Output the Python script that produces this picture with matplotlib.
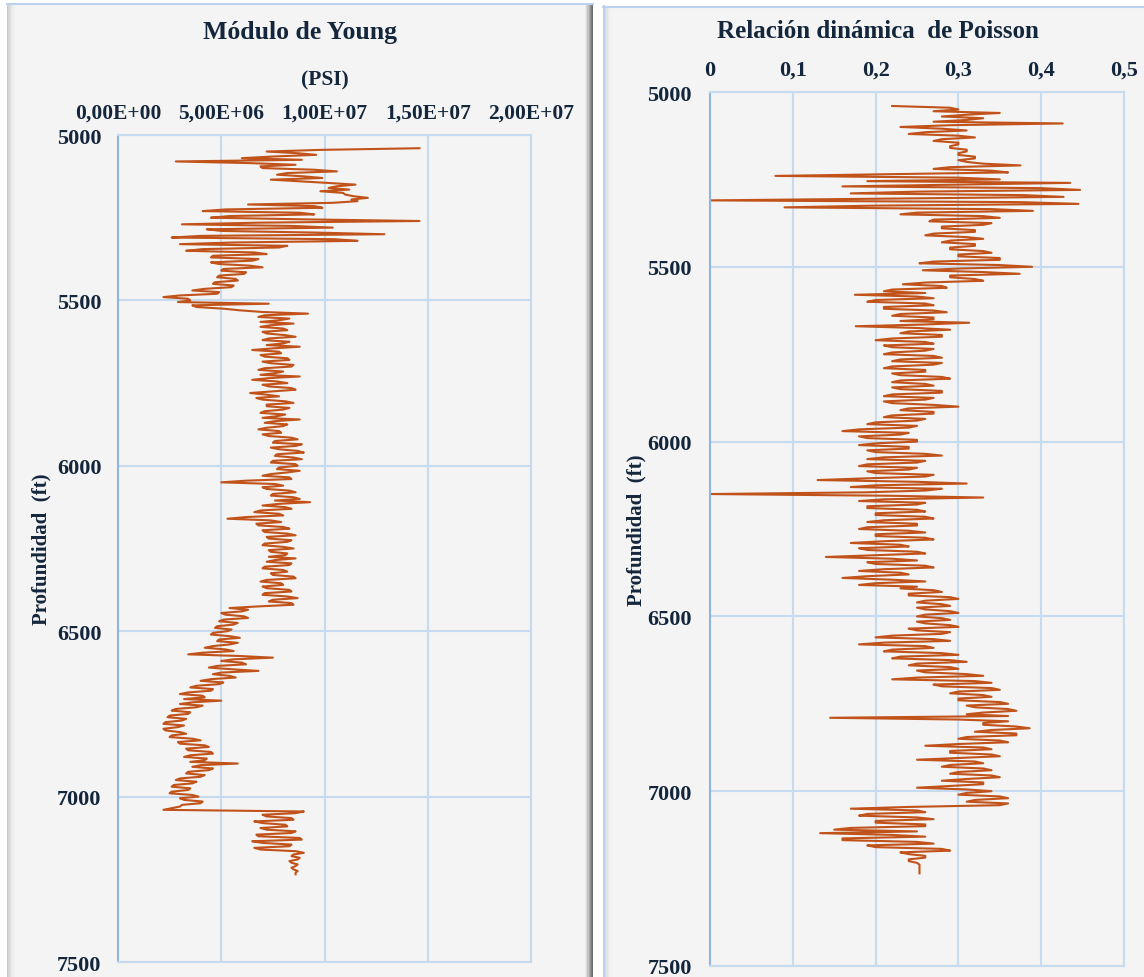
import numpy as np
import matplotlib
matplotlib.use("Agg")
import matplotlib.pyplot as plt
from matplotlib.patches import Rectangle

# ---------------- data ----------------
depth_ft = np.arange(5040, 7240, 5)

young_mpsi = [
    14.6, 9.8, 7.2, 8.7, 9.6, 7.5, 6.0, 8.9, 2.8, 6.4,
    8.6, 6.9, 7.0, 9.5, 10.6, 8.2, 7.7, 9.0, 9.9, 7.4,
    8.8, 10.2, 11.5, 10.6, 10.2, 11.2, 9.8, 10.9, 11.0, 11.4,
    12.1, 11.3, 11.6, 10.4, 6.3, 9.5, 9.9, 5.2, 4.1, 8.8,
    9.5, 5.4, 4.5, 9.0, 14.6, 6.8, 3.1, 8.5, 10.4, 4.3,
    5.0, 9.6, 12.9, 4.0, 2.6, 10.5, 11.6, 5.5, 3.0, 8.2,
    7.8, 4.1, 3.3, 6.6, 7.2, 4.6, 4.5, 6.8, 6.5, 4.5,
    4.9, 6.4, 7.0, 5.1, 5.0, 6.2, 6.1, 4.9, 4.8, 5.7,
    5.8, 4.7, 4.6, 5.6, 5.5, 4.2, 3.6, 4.9, 4.8, 3.0,
    2.2, 3.4, 3.5, 2.9, 7.3, 3.6, 3.8, 5.1, 5.9, 7.0,
    9.2, 7.1, 6.8, 8.3, 7.8, 6.9, 8.5, 7.4, 6.9, 8.0,
    8.2, 7.0, 7.2, 8.1, 8.6, 7.3, 7.0, 8.3, 8.0, 7.2,
    8.8, 7.5, 6.5, 7.8, 7.9, 6.9, 7.1, 8.2, 8.3, 7.0,
    7.4, 8.5, 8.4, 7.1, 6.8, 8.0, 7.6, 6.9, 8.8, 7.3,
    6.5, 7.7, 8.2, 7.0, 7.3, 8.4, 8.6, 7.5, 6.4, 7.2,
    7.8, 6.7, 7.0, 8.1, 8.5, 7.2, 7.2, 8.3, 8.0, 7.1,
    6.9, 8.1, 7.7, 7.0, 8.8, 7.6, 7.1, 8.2, 8.0, 7.2,
    6.8, 7.8, 7.9, 7.0, 7.3, 8.4, 8.7, 7.6, 7.5, 8.9,
    8.6, 7.4, 7.8, 8.7, 9.0, 7.7, 7.6, 8.5, 8.9, 7.5,
    7.4, 8.6, 8.7, 7.8, 7.7, 8.8, 8.2, 7.4, 7.0, 8.3,
    8.4, 6.2, 5.0, 7.6, 8.0, 7.0, 7.2, 8.3, 8.6, 7.5,
    7.4, 8.5, 8.8, 7.6, 9.3, 7.8, 7.0, 8.1, 8.4, 6.9,
    6.6, 7.8, 8.0, 6.2, 5.3, 7.4, 7.9, 6.7, 6.8, 8.0,
    8.3, 7.0, 7.1, 8.2, 8.6, 7.2, 7.3, 8.4, 8.2, 7.1,
    7.0, 8.0, 8.5, 7.3, 7.4, 8.2, 8.1, 7.3, 8.6, 7.6,
    7.2, 8.4, 8.3, 7.1, 7.0, 8.0, 8.2, 7.4, 7.5, 8.5,
    8.6, 7.2, 6.9, 7.9, 8.0, 7.0, 7.2, 8.3, 8.4, 7.1,
    7.0, 8.2, 8.7, 7.5, 7.3, 8.4, 8.5, 6.8, 5.4, 6.3,
    6.0, 5.0, 5.2, 6.1, 6.3, 5.1, 4.9, 5.8, 5.6, 4.8,
    4.7, 5.5, 5.3, 4.6, 4.5, 5.4, 5.9, 4.9, 4.8, 5.8,
    5.4, 4.6, 4.2, 5.2, 5.6, 4.1, 3.4, 5.9, 7.5, 5.6,
    5.0, 6.0, 6.2, 4.8, 4.4, 5.5, 6.8, 5.0, 4.6, 5.4,
    5.7, 4.5, 4.0, 5.1, 4.9, 3.8, 3.5, 4.6, 4.5, 3.4,
    3.0, 4.1, 4.2, 3.2, 5.0, 3.6, 3.0, 4.1, 3.8, 2.8,
    2.6, 3.5, 3.4, 2.5, 2.4, 3.3, 3.1, 2.3, 2.2, 3.2,
    2.9, 2.2, 2.3, 3.0, 3.3, 2.6, 2.5, 3.6, 4.0, 2.9,
    3.0, 4.2, 4.4, 3.3, 3.4, 4.5, 4.6, 3.5, 3.2, 4.3,
    4.2, 3.5, 5.8, 4.0, 3.6, 4.6, 4.4, 3.4, 3.3, 4.2,
    4.0, 3.0, 2.8, 3.8, 3.6, 2.7, 2.6, 3.5, 3.4, 2.6,
    2.5, 3.6, 3.9, 3.0, 3.2, 4.1, 4.0, 3.1, 3.0, 2.6,
    2.2, 9.0, 8.6, 7.0, 7.2, 8.4, 8.5, 6.6, 7.0, 8.1,
    8.2, 6.9, 7.2, 8.6, 8.4, 6.7, 6.8, 8.8, 8.9, 6.5,
    7.0, 8.4, 8.3, 6.6, 6.9, 8.6, 9.0, 8.5, 8.4, 8.8,
    8.7, 8.3, 8.4, 8.7, 8.6, 8.4, 8.5, 8.7, 8.6, 8.6,
]

poisson = [
    0.22, 0.29, 0.30, 0.27, 0.35, 0.31, 0.28, 0.33, 0.31, 0.27,
    0.426, 0.29, 0.23, 0.28, 0.31, 0.26, 0.24, 0.30, 0.32, 0.28,
    0.27, 0.30, 0.30, 0.29, 0.29, 0.31, 0.31, 0.30, 0.30, 0.32,
    0.32, 0.30, 0.31, 0.33, 0.375, 0.29, 0.27, 0.34, 0.36, 0.22,
    0.079, 0.30, 0.35, 0.19, 0.435, 0.30, 0.16, 0.40, 0.447, 0.25,
    0.17, 0.38, 0.427, 0.22, 0.0, 0.375, 0.445, 0.20, 0.09, 0.34,
    0.39, 0.25, 0.23, 0.33, 0.35, 0.27, 0.265, 0.34, 0.33, 0.28,
    0.28, 0.32, 0.32, 0.27, 0.26, 0.31, 0.33, 0.29, 0.28, 0.32,
    0.32, 0.29, 0.29, 0.33, 0.34, 0.30, 0.30, 0.35, 0.35, 0.27,
    0.253, 0.35, 0.389, 0.30, 0.257, 0.33, 0.374, 0.29, 0.29, 0.32,
    0.33, 0.26, 0.233, 0.28, 0.286, 0.22, 0.21, 0.26, 0.175, 0.25,
    0.27, 0.20, 0.19, 0.26, 0.27, 0.21, 0.21, 0.27, 0.286, 0.23,
    0.22, 0.27, 0.27, 0.23, 0.313, 0.26, 0.176, 0.25, 0.29, 0.24,
    0.23, 0.28, 0.28, 0.22, 0.20, 0.26, 0.27, 0.21, 0.22, 0.27,
    0.26, 0.22, 0.21, 0.27, 0.28, 0.23, 0.22, 0.28, 0.27, 0.22,
    0.21, 0.26, 0.26, 0.22, 0.23, 0.28, 0.29, 0.23, 0.22, 0.26,
    0.27, 0.22, 0.23, 0.28, 0.28, 0.22, 0.21, 0.27, 0.26, 0.21,
    0.22, 0.27, 0.30, 0.24, 0.23, 0.27, 0.27, 0.22, 0.21, 0.26,
    0.25, 0.20, 0.19, 0.25, 0.24, 0.18, 0.16, 0.24, 0.23, 0.18,
    0.19, 0.25, 0.25, 0.20, 0.18, 0.24, 0.24, 0.19, 0.20, 0.26,
    0.28, 0.21, 0.19, 0.26, 0.25, 0.19, 0.18, 0.25, 0.24, 0.19,
    0.20, 0.27, 0.26, 0.19, 0.13, 0.25, 0.31, 0.20, 0.17, 0.28,
    0.26, 0.19, 0.0, 0.22, 0.33, 0.21, 0.18, 0.26, 0.25, 0.19,
    0.19, 0.25, 0.26, 0.20, 0.20, 0.26, 0.27, 0.21, 0.19, 0.25,
    0.25, 0.19, 0.18, 0.24, 0.26, 0.20, 0.20, 0.26, 0.27, 0.21,
    0.17, 0.23, 0.24, 0.18, 0.19, 0.25, 0.26, 0.20, 0.14, 0.22,
    0.25, 0.19, 0.20, 0.26, 0.27, 0.21, 0.18, 0.23, 0.24, 0.19,
    0.16, 0.22, 0.26, 0.20, 0.18, 0.25, 0.23, 0.27, 0.28, 0.24,
    0.24, 0.29, 0.30, 0.26, 0.25, 0.28, 0.29, 0.25, 0.26, 0.29,
    0.30, 0.26, 0.25, 0.28, 0.29, 0.25, 0.26, 0.29, 0.30, 0.24,
    0.25, 0.29, 0.28, 0.22, 0.20, 0.27, 0.29, 0.21, 0.18, 0.26,
    0.27, 0.22, 0.21, 0.28, 0.30, 0.23, 0.22, 0.29, 0.31, 0.25,
    0.24, 0.29, 0.30, 0.25, 0.26, 0.31, 0.33, 0.25, 0.22, 0.32,
    0.34, 0.27, 0.28, 0.34, 0.35, 0.30, 0.29, 0.33, 0.34, 0.30,
    0.30, 0.35, 0.36, 0.31, 0.32, 0.36, 0.37, 0.33, 0.31, 0.36,
    0.145, 0.30, 0.36, 0.33, 0.33, 0.37, 0.386, 0.34, 0.32, 0.37,
    0.37, 0.31, 0.30, 0.35, 0.36, 0.30, 0.26, 0.33, 0.34, 0.29,
    0.29, 0.34, 0.35, 0.30, 0.25, 0.32, 0.33, 0.29, 0.28, 0.33,
    0.34, 0.30, 0.29, 0.34, 0.35, 0.31, 0.28, 0.33, 0.33, 0.29,
    0.25, 0.31, 0.34, 0.31, 0.30, 0.35, 0.36, 0.32, 0.31, 0.36,
    0.35, 0.24, 0.17, 0.25, 0.26, 0.19, 0.18, 0.25, 0.27, 0.20,
    0.20, 0.26, 0.26, 0.17, 0.15, 0.25, 0.133, 0.22, 0.26, 0.16,
    0.16, 0.25, 0.27, 0.19, 0.20, 0.28, 0.29, 0.23, 0.24, 0.26,
    0.26, 0.24, 0.24, 0.25, 0.253, 0.253, 0.253, 0.253, 0.253, 0.253,
]

young_ticks = [0, 5e6, 1e7, 1.5e7, 2e7]
young_ticklabels = ["0,00E+00", "5,00E+06", "1,00E+07", "1,50E+07", "2,00E+07"]
poisson_ticks = [0, 0.1, 0.2, 0.3, 0.4, 0.5]
poisson_ticklabels = ["0", "0,1", "0,2", "0,3", "0,4", "0,5"]
depth_ticks = [5000, 5500, 6000, 6500, 7000, 7500]

# ---------------- style ----------------
W, H = 1144, 978
TXT = "#14263B"
LINE = "#C0521A"
GRID = "#C6DAF0"
SPINE = "#8FB5E3"
PANEL = "#F4F4F4"
SERIF = ["Liberation Serif", "DejaVu Serif"]

fig = plt.figure(figsize=(W / 100, H / 100), dpi=100)
fig.patch.set_facecolor("white")

# background drawing layer in pixel coordinates
bg = fig.add_axes([0, 0, 1, 1])
bg.set_xlim(0, W)
bg.set_ylim(H, 0)
bg.axis("off")
bg.set_zorder(-10)

# left panel
bg.add_patch(Rectangle((7, 4), 586, 990, facecolor=PANEL, edgecolor="none"))
bg.plot([7, 593], [4.5, 4.5], color="#BCD3EE", lw=1.5)
for i, c in enumerate(["#C8C8C8", "#D6D6D6", "#E0E0E0", "#E8E8E8", "#EEEEEE", "#F1F1F1"]):
    bg.add_patch(Rectangle((7 + i * 1.3, 5), 1.3, 990, facecolor=c, edgecolor="none"))
for i, c in enumerate(["#EBEBEB", "#DADADA", "#C4C4C4", "#ABABAB", "#929292", "#7C7C7C", "#6C6C6C"]):
    bg.add_patch(Rectangle((585 + i * 1.2, 5), 1.2, 990, facecolor=c, edgecolor="none"))

# right panel
bg.add_patch(Rectangle((603, 7), 560, 990, facecolor=PANEL, edgecolor="none"))
bg.plot([603, W], [7.5, 7.5], color="#BCD3EE", lw=1.5)
bg.plot([603.5, 603.5], [7, H], color="#BCD3EE", lw=1.5)
for i, c in enumerate(["#DADADA", "#E4E4E4", "#EAEAEA", "#EFEFEF", "#F2F2F2"]):
    bg.add_patch(Rectangle((605 + i * 1.3, 8), 1.3, 990, facecolor=c, edgecolor="none"))


def px_axes(l, t, r, b):
    return [l / W, 1 - b / H, (r - l) / W, (b - t) / H]


def style_axes(ax, xticks, xlabels, xlim, xfs, xpad, ypad):
    ax.set_facecolor("none")
    ax.set_xlim(*xlim)
    ax.set_ylim(7500, 5000)
    ax.set_yticks(depth_ticks)
    ax.set_yticklabels([str(t) for t in depth_ticks])
    ax.set_xticks(xticks)
    ax.set_xticklabels(xlabels)
    ax.xaxis.tick_top()
    ax.tick_params(axis="x", length=0, pad=xpad, labelsize=xfs, labelcolor=TXT)
    ax.tick_params(axis="y", length=0, pad=ypad, labelsize=16, labelcolor=TXT)
    for lab in ax.get_xticklabels() + ax.get_yticklabels():
        lab.set_fontfamily(SERIF)
        lab.set_fontweight("bold")
    ax.grid(True, color=GRID, lw=1.5)
    ax.set_axisbelow(True)
    for s in ["top", "right", "bottom"]:
        ax.spines[s].set_color(GRID)
        ax.spines[s].set_linewidth(1.5)
    ax.spines["left"].set_color(SPINE)
    ax.spines["left"].set_linewidth(1.5)


# ---- left chart ----
ax1 = fig.add_axes(px_axes(118, 136, 531, 963))
ax1.plot(np.array(young_mpsi) * 1e6, depth_ft, color=LINE, lw=1.5)
style_axes(ax1, young_ticks, young_ticklabels, (0, 2e7), 15.5, 9, 12)
fig.text(300 / W, 1 - 32 / H, "Módulo de Young", ha="center", va="center",
         fontsize=18.5, fontweight="bold", family=SERIF, color=TXT)
fig.text(325 / W, 1 - 80 / H, "(PSI)", ha="center", va="center",
         fontsize=15.5, fontweight="bold", family=SERIF, color=TXT)
fig.text(41 / W, 1 - 549 / H, "Profundidad  (ft)", ha="center", va="center",
         rotation=90, fontsize=15, fontweight="bold", family=SERIF, color=TXT)

# ---- right chart ----
ax2 = fig.add_axes(px_axes(710, 93, 1124, 967))
ax2.plot(poisson, depth_ft, color=LINE, lw=1.5)
style_axes(ax2, poisson_ticks, poisson_ticklabels, (0, 0.5), 16, 9, 13)
fig.text(878 / W, 1 - 32 / H, "Relación dinámica  de Poisson", ha="center", va="center",
         fontsize=18, fontweight="bold", family=SERIF, color=TXT)
fig.text(636 / W, 1 - 530 / H, "Profundidad  (ft)", ha="center", va="center",
         rotation=90, fontsize=15, fontweight="bold", family=SERIF, color=TXT)

fig.savefig("out.png", dpi=100)
